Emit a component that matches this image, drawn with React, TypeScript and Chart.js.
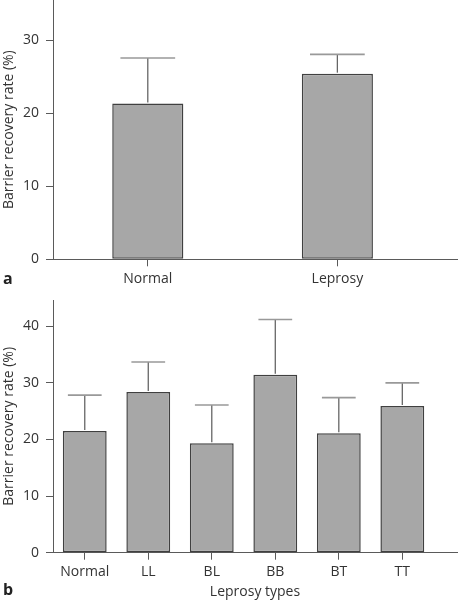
import React, { useEffect, useRef } from "react";
import { Chart, registerables } from "chart.js";

Chart.register(...registerables);

// ---------- data ----------
const topCategories = ["Normal", "Leprosy"];
const topMeans = [21.35, 25.45];
const topErrors = [6.25, 2.65];
const topYTicks = [0, 10, 20, 30];

const bottomCategories = ["Normal", "LL", "BL", "BB", "BT", "TT"];
const bottomMeans = [21.5, 28.4, 19.35, 31.45, 21.1, 25.9];
const bottomErrors = [6.35, 5.3, 6.75, 9.75, 6.3, 4.1];
const bottomYTicks = [0, 10, 20, 30, 40];

const yTitle = "Barrier recovery rate (%)";
const bottomXTitle = "Leprosy types";

const FONT = "'Open Sans', 'Noto Sans', sans-serif";
const TEXT = "#333333";
const AXIS = "#5a5a5a";

const errorBarPlugin = {
  id: "errorBars",
  afterDatasetsDraw(chart: any, _args: any, opts: any) {
    const meta = chart.getDatasetMeta(0);
    const yScale = chart.scales.y;
    const ctx = chart.ctx;
    const errs: number[] = opts.errors || [];
    meta.data.forEach((bar: any, i: number) => {
      const raw = chart.data.datasets[0].data[i];
      const v = typeof raw === "number" ? raw : raw.y;
      const top = yScale.getPixelForValue(v + errs[i]);
      const half = (bar.width * opts.capRatio) / 2;
      ctx.save();
      ctx.lineWidth = 1.3;
      ctx.strokeStyle = opts.lineColor;
      ctx.beginPath();
      ctx.moveTo(bar.x, bar.y - 1);
      ctx.lineTo(bar.x, top);
      ctx.stroke();
      ctx.lineWidth = 1.6;
      ctx.strokeStyle = opts.capColor;
      ctx.beginPath();
      ctx.moveTo(bar.x - half, top);
      ctx.lineTo(bar.x + half, top);
      ctx.stroke();
      ctx.restore();
    });
  },
};

type PanelProps = {
  cats: string[];
  means: number[];
  errs: number[];
  yTicks: number[];
  yMax: number;
  xMax: number;
  barPct: number;
  width: number;
  height: number;
  xHeight: number;
  xTitle?: string;
};

function BarPanel(p: PanelProps) {
  const ref = useRef<HTMLCanvasElement | null>(null);
  useEffect(() => {
    if (!ref.current) return;
    const chart = new Chart(ref.current, {
      type: "bar",
      data: {
        datasets: [
          {
            data: p.cats.map((_, i) => ({ x: i, y: p.means[i] })) as any,
            backgroundColor: "#a7a7a7",
            borderColor: "#404040",
            borderWidth: 1.5,
            borderSkipped: false,
            barPercentage: p.barPct,
            categoryPercentage: 1,
          },
        ],
      },
      options: {
        responsive: false,
        animation: false,
        layout: { padding: { top: 0, right: 1, left: 0, bottom: 0 } },
        plugins: {
          legend: { display: false },
          tooltip: { enabled: false },
          errorBars: {
            errors: p.errs,
            capRatio: 0.77,
            lineColor: "#666666",
            capColor: "#999999",
          },
        } as any,
        scales: {
          x: {
            type: "linear",
            offset: false,
            min: -0.5,
            max: p.xMax,
            afterBuildTicks: (s: any) => {
              s.ticks = p.cats.map((_, i) => ({ value: i }));
            },
            afterFit: (s: any) => {
              s.height = p.xHeight;
              s.paddingLeft = 0;
              s.paddingRight = 0;
            },
            ticks: {
              callback: (v: any) => p.cats[v as number],
              font: { family: FONT, size: 14 },
              color: TEXT,
              padding: 4,
              maxRotation: 0,
              autoSkip: false,
            },
            grid: {
              offset: false,
              drawOnChartArea: false,
              tickLength: 7,
              color: AXIS,
              lineWidth: 1,
            },
            border: { color: AXIS, width: 1 },
            title: {
              display: !!p.xTitle,
              text: p.xTitle || "",
              font: { family: FONT, size: 14 },
              color: TEXT,
              padding: { top: 0, bottom: 1 },
            },
          },
          y: {
            min: 0,
            max: p.yMax,
            afterBuildTicks: (s: any) => {
              s.ticks = p.yTicks.map((v) => ({ value: v }));
            },
            afterFit: (s: any) => {
              s.width = 53;
              s.paddingTop = 0;
              s.paddingBottom = 0;
            },
            ticks: {
              font: { family: FONT, size: 14 },
              color: TEXT,
              padding: 7,
            },
            grid: {
              drawOnChartArea: false,
              tickLength: 7,
              color: AXIS,
              lineWidth: 1,
            },
            border: { color: AXIS, width: 1 },
            title: {
              display: true,
              text: yTitle,
              font: { family: FONT, size: 14 },
              color: TEXT,
              padding: { top: 1, bottom: 0 },
            },
          },
        },
      },
      plugins: [errorBarPlugin as any],
    });
    return () => chart.destroy();
  }, []);
  return <canvas ref={ref} width={p.width} height={p.height} style={{ display: "block" }} />;
}

const panelLetter: React.CSSProperties = {
  position: "absolute",
  left: 3,
  fontFamily: FONT,
  fontWeight: 700,
  fontSize: 16,
  lineHeight: "16px",
  color: "#222",
};

export default function App() {
  return (
    <div style={{ position: "absolute", left: 0, top: 0, width: 458, height: 601, background: "#fff" }}>
      <div style={{ position: "absolute", left: 0, top: 0 }}>
        <BarPanel
          cats={topCategories}
          means={topMeans}
          errs={topErrors}
          yTicks={topYTicks}
          yMax={35.55}
          xMax={1.631}
          barPct={0.375}
          width={458}
          height={300}
          xHeight={40.7}
        />
      </div>
      <div style={{ position: "absolute", left: 0, top: 300 }}>
        <BarPanel
          cats={bottomCategories}
          means={bottomMeans}
          errs={bottomErrors}
          yTicks={bottomYTicks}
          yMax={44.65}
          xMax={5.861}
          barPct={0.69}
          width={458}
          height={301}
          xHeight={48.3}
          xTitle={bottomXTitle}
        />
      </div>
      <div style={{ ...panelLetter, top: 270 }}>a</div>
      <div style={{ ...panelLetter, top: 581 }}>b</div>
    </div>
  );
}
